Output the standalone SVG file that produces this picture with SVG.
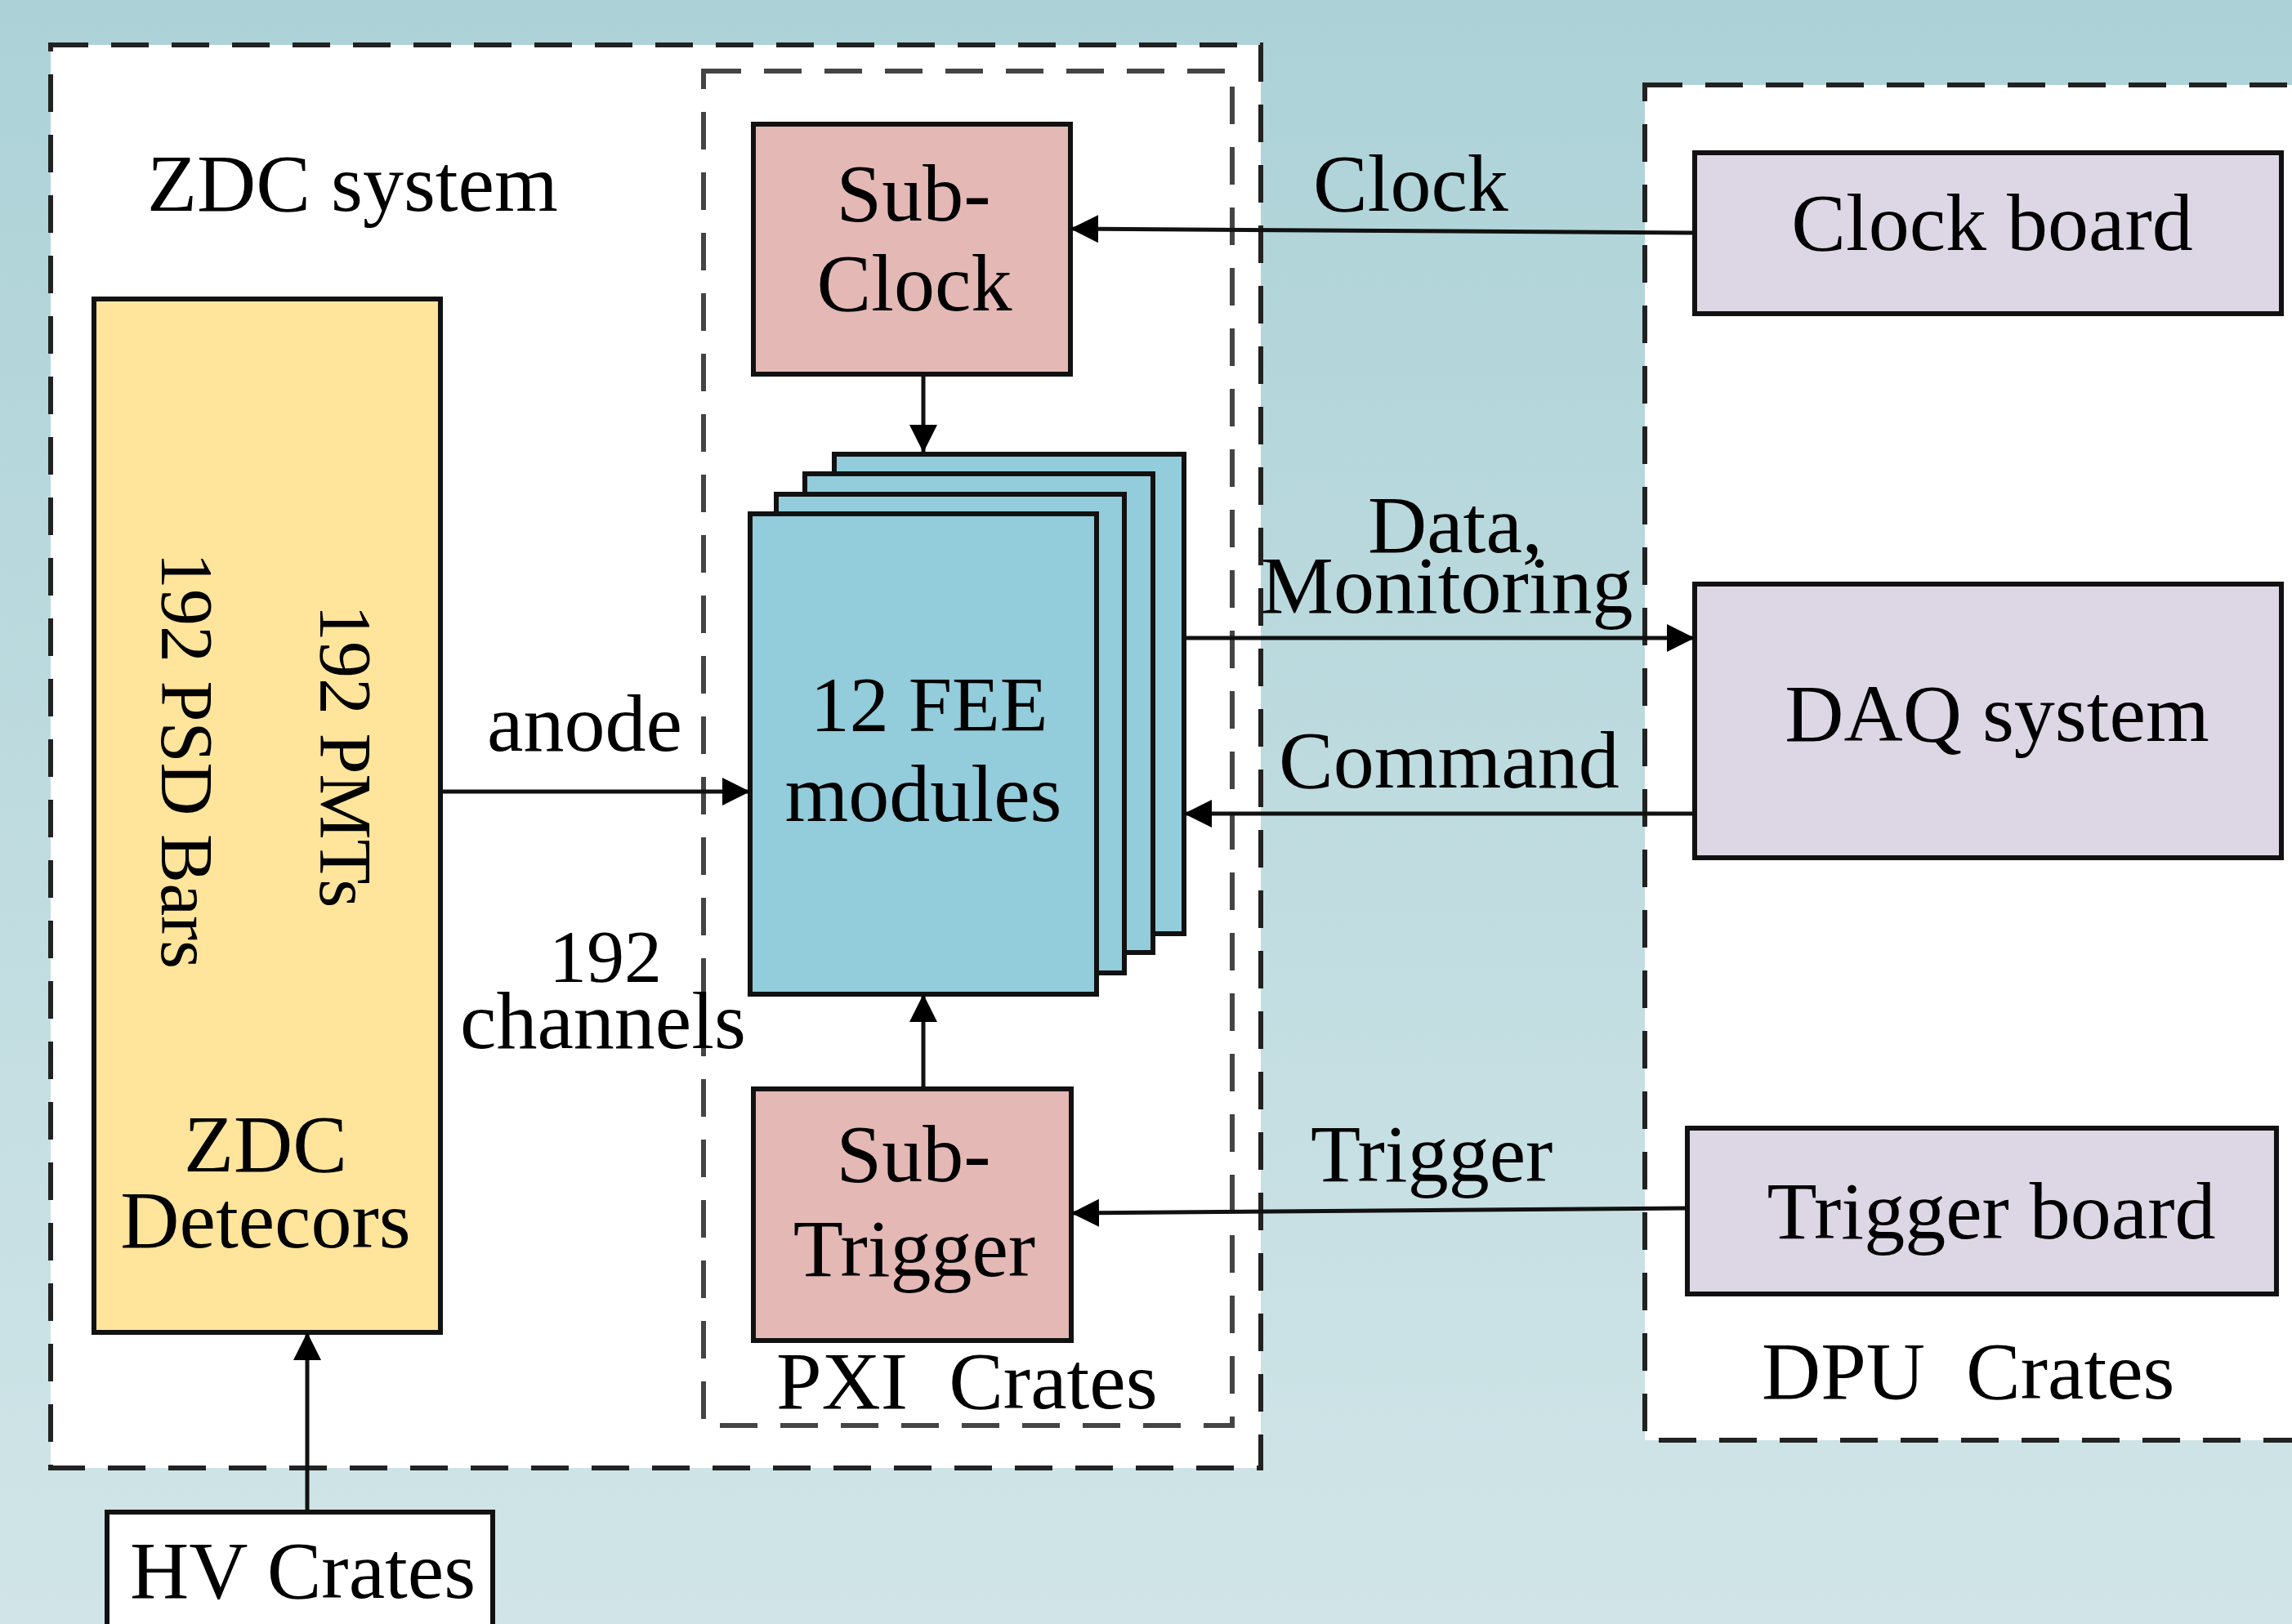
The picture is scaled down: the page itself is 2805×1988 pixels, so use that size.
<svg xmlns="http://www.w3.org/2000/svg" width="2805" height="1988" viewBox="0 0 2805 1988">
  <defs>
    <linearGradient id="bg" x1="0" y1="0" x2="0" y2="1">
      <stop offset="0" stop-color="#acd2d7"/>
      <stop offset="1" stop-color="#d1e5e8"/>
    </linearGradient>
    <marker id="arrow" viewBox="0 0 10 10" refX="10" refY="5" markerUnits="userSpaceOnUse" markerWidth="34" markerHeight="34" orient="auto" preserveAspectRatio="none">
      <path d="M0,0 L10,5 L0,10 z" fill="#000"/>
    </marker>
    <style>
      text { font-family: "Liberation Serif", "Times New Roman", serif; font-size: 100px; fill: #000; white-space: pre; }
      .mid { text-anchor: middle; }
      .frame { fill: #fff; stroke: #222; stroke-width: 6; stroke-dasharray: 46 28; }
      .inner { fill: none; stroke: #444; stroke-width: 6; stroke-dasharray: 46 28; }
      .box { stroke: #111; stroke-width: 6; }
      .pink { fill: #e4b8b5; }
      .yellow { fill: #ffe49b; }
      .blue { fill: #93ccda; }
      .lav { fill: #ddd7e5; }
      .white { fill: #fff; }
      .wire { stroke: #111; stroke-width: 5; fill: none; }
    </style>
  </defs>

  <rect x="0" y="0" width="2805" height="1988" fill="url(#bg)"/>

  <!-- enclosures -->
  <g id="zdc-system">
    <rect class="frame" x="62" y="55" width="1481" height="1742"/>
    <text x="180" y="258">ZDC system</text>
  </g>
  <g id="dpu-crates">
    <rect class="frame" x="2013" y="104" width="830" height="1659"/>
    <text x="2156" y="1712">DPU  Crates</text>
  </g>
  <g id="pxi-crates">
    <rect class="inner" x="861" y="87" width="647" height="1658"/>
    <text x="950" y="1724">PXI  Crates</text>
  </g>

  <!-- nodes -->
  <g id="zdc-detectors">
    <rect class="box yellow" x="115" y="366" width="424" height="1265"/>
    <text transform="translate(198,676) rotate(90)" style="font-size:90px">192 PSD Bars</text>
    <text transform="translate(392,740) rotate(90)" style="font-size:90px">192 PMTs</text>
    <text class="mid" x="325" y="1434">ZDC</text>
    <text class="mid" x="325" y="1527">Detecors</text>
  </g>

  <g id="sub-clock">
    <rect class="box pink" x="922" y="152" width="388" height="306"/>
    <text class="mid" x="1118" y="270">Sub-</text>
    <text class="mid" x="1119" y="380">Clock</text>
  </g>

  <g id="fee-modules">
    <rect class="box blue" x="1021" y="556" width="428" height="587"/>
    <rect class="box blue" x="985" y="580" width="426" height="586"/>
    <rect class="box blue" x="950" y="605" width="426" height="586"/>
    <rect class="box blue" x="918" y="629" width="424" height="588"/>
    <text class="mid" x="1137" y="895" style="font-size:96px">12 FEE</text>
    <text class="mid" x="1130" y="1005">modules</text>
  </g>

  <g id="sub-trigger">
    <rect class="box pink" x="922" y="1333" width="389" height="308"/>
    <text class="mid" x="1118" y="1446">Sub-</text>
    <text class="mid" x="1119" y="1562">Trigger</text>
  </g>

  <g id="clock-board">
    <rect class="box lav" x="2074" y="187" width="718" height="197"/>
    <text class="mid" x="2438" y="306">Clock board</text>
  </g>

  <g id="daq-system">
    <rect class="box lav" x="2074" y="715" width="718" height="335"/>
    <text class="mid" x="2444" y="907">DAQ system</text>
  </g>

  <g id="trigger-board">
    <rect class="box lav" x="2065" y="1381" width="721" height="203"/>
    <text class="mid" x="2437" y="1516">Trigger board</text>
  </g>

  <g id="hv-crates">
    <rect class="box white" x="131" y="1851" width="472" height="170"/>
    <text x="159" y="1956">HV Crates</text>
  </g>

  <!-- connectors -->
  <g id="connectors">
    <path class="wire" d="M2074,285 L1310,280" marker-end="url(#arrow)"/>
    <path class="wire" d="M1130,458 L1130,554" marker-end="url(#arrow)"/>
    <path class="wire" d="M539,969 L918,969" marker-end="url(#arrow)"/>
    <path class="wire" d="M1449,781 L2074,781" marker-end="url(#arrow)"/>
    <path class="wire" d="M2074,996 L1449,996" marker-end="url(#arrow)"/>
    <path class="wire" d="M1130,1333 L1130,1217" marker-end="url(#arrow)"/>
    <path class="wire" d="M2065,1479 L1311,1485" marker-end="url(#arrow)"/>
    <path class="wire" d="M376,1851 L376,1631" marker-end="url(#arrow)"/>

    <text x="1607" y="258">Clock</text>
    <text x="1674" y="676">Data,</text>
    <text x="1543" y="750">Monitoring</text>
    <text x="1565" y="964">Command</text>
    <text x="1604" y="1446">Trigger</text>
    <text x="596" y="919">anode</text>
    <text class="mid" x="741" y="1202" style="font-size:92px">192</text>
    <text class="mid" x="738" y="1283">channels</text>
  </g>
</svg>
